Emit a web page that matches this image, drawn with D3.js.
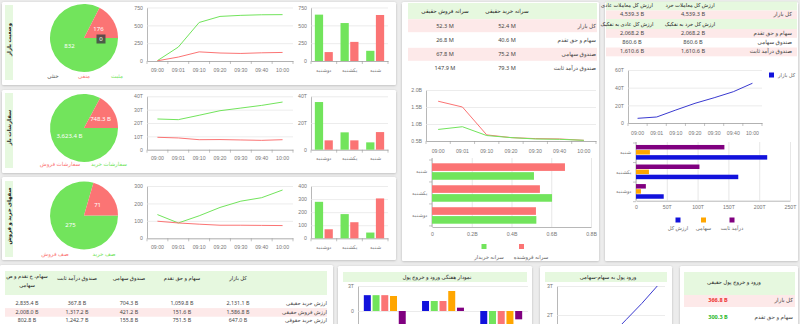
<!DOCTYPE html>
<html><head><meta charset="utf-8">
<script src="https://cdn.jsdelivr.net/npm/d3@7"></script>
<style>
body{margin:0;background:#ececec;overflow:hidden;}
svg{display:block;font-family:"Noto Sans","DejaVu Sans",sans-serif;}
</style></head><body><svg id="c" width="800" height="324"></svg>
<script>
// ---- shared categories ----
const times = ["09:00","09:01","09:10","09:20","09:30","09:40","10:00"];
const weekDays = ["دوشنبه","یکشنبه","شنبه"];       // column order, left to right
const weekDaysRows = ["شنبه","یکشنبه","دوشنبه"];   // row order, top to bottom

// ---- market state (counts) ----
const stateLabels = ["مثبت","منفی","خنثی"];
const stateCounts = [832, 176, 0];
const stateUp = [5, 195, 540, 625, 640, 648, 650];
const stateDown = [3, 55, 128, 112, 106, 115, 120];
const stateDayUp = [650, 532, 143];
const stateDayDown = [125, 268, 645];

// ---- open orders (B / T) ----
const orderLabels = ["سفارشات خرید","سفارشات فروش"];
const orderValues = [3623.4, 748.3];
const orderBuy = [23, 22.5, 25.8, 29.2, 31.2, 33.2, 35.7];
const orderSell = [9.3, 8.8, 7.5, 7.6, 7.3, 7, 7.5];
const orderDayBuy = [35.7, 13, 5.5];
const orderDaySell = [7, 7, 13.2];

// ---- buy / sell queues ----
const queueLabels = ["صف خرید","صف فروش"];
const queueValues = [275, 71];
const queueBuy = [136, 88, 129, 177, 213, 233, 277];
const queueSell = [98, 88, 81, 75, 75, 74, 73];
const queueDayBuy = [279, 185, 44];
const queueDaySell = [69, 123, 305];

// ---- per-capita individual trades ----
const perCapitaRows = ["کل بازار","سهام و حق تقدم","صندوق سهامی","صندوق درآمد ثابت"];
const perCapitaSellText = ["52.3 M","26.8 M","67.8 M","147.9 M"];
const perCapitaBuyText = ["52.4 M","40.6 M","75.2 M","79.3 M"];
const perCapitaBuyer = [0.84, 0.92, 0.66, 0.60, 0.56, 0.55, 0.52];
const perCapitaSeller = [1.67, 1.50, 0.68, 0.60, 0.57, 0.56, 0.52];
const perCapitaDayBuyer = [0.513, 0.604, 0.525];   // by weekDaysRows
const perCapitaDaySeller = [0.669, 0.543, 0.523];

// ---- trade value ----
const valueRetail = ["4,539.3 B","2,068.2 B","860.6 B","1,610.6 B"];
const valueNormal = ["4,539.3 B","2,068.2 B","860.6 B","1,610.6 B"];
const valueTotal = [5.3, 6.8, 14.7, 22.3, 28.6, 35.4, 45];   // T
const valueDayTotal = [213, 166, 45];      // by weekDaysRows
const valueDayEquity = [22.6, 21, 8];
const valueDayFixed = [143.5, 103, 16];

// ---- individual / institutional table ----
const flowCols = ["کل بازار","سهام و حق تقدم","صندوق سهامی","صندوق درآمد ثابت","سهام، ح تقدم و ص سهامی"];
const flowRows = ["ارزش خرید حقیقی","ارزش فروش حقیقی","ارزش خرید حقوقی"];
const flowCells = [
  ["2,131.1 B","1,059.8 B","704.3 B","367.8 B","2,835.4 B"],
  ["1,586.8 B","151.6 B","421.2 B","1,317.2 B","2,008.0 B"],
  ["647.0 B","751.5 B","155.8 B","1,242.7 B","802.8 B"]
];

// ---- weekly money flow (T) ----
const weeklySeries = ["کل بازار","سهام و حق تقدم","سهام","صندوق سهامی","صندوق درآمد ثابت"];
const weeklyFlow = [
  [1.9, 1.9, 1.9, 1.8, -2.6],
  [1.2, 1.2, 1.2, 2.4, 0.4],
  [-2.0, -2.0, -2.0, -2.0, -1.0]
];
const equityInflow = [0.3, 0.55, 0.9, 1.3, 1.85, 2.4, 3.0];   // T
const realFlowRows = ["کل بازار","سهام و حق تقدم"];
const realFlowText = ["366.8 B","300.3 B"];
const realFlowSign = [-1, 1];

// ---- palette ----
const GREEN = "#72e45c", RED = "#fb7474", BLUE = "#1212dc", LINEBLUE = "#3a3ad0",
      ORANGE = "#ffa600", PURPLE = "#800080", HEAD = "#e6f8df", PINK = "#fde9e9",
      TXT = "#444", TICK = "#777";

const svg = d3.select("#c");
const defs = svg.append("defs");
const f = defs.append("filter").attr("id","sh").attr("x","-5%").attr("y","-5%").attr("width","110%").attr("height","115%");
f.append("feDropShadow").attr("dx",0).attr("dy",0.6).attr("stdDeviation",0.8).attr("flood-color","#000").attr("flood-opacity",0.22);

function card(x, y, w, h) {
  svg.append("rect").attr("x", x).attr("y", y).attr("width", w).attr("height", h)
    .attr("rx", 1.5).attr("fill", "#fff").attr("filter", "url(#sh)");
}
function text(x, y, s, o = {}) {
  return svg.append("text").attr("x", x).attr("y", y).text(s)
    .attr("font-size", o.size || 5.6).attr("fill", o.fill || TXT)
    .attr("text-anchor", o.anchor || "middle").attr("dominant-baseline", "middle")
    .attr("font-weight", o.weight || "normal");
}
function styleAxis(g) {
  g.selectAll("text").attr("fill", TICK).attr("font-size", 5.2).attr("font-family", "inherit");
  g.select(".domain").attr("stroke", "#9a9a9a").attr("stroke-width", 0.7);
}

// time-series line chart
function lineChart(o) {
  const x = d3.scaleBand().domain(times).range([o.x0, o.x1]);
  const y = d3.scaleLinear().domain(o.domain).range([o.yb, o.yt]);
  const g = svg.append("g");
  g.append("g").attr("transform", `translate(${o.x0},0)`)
    .call(d3.axisLeft(y).tickValues(o.ticks).tickFormat(o.fmt).tickSize(-(o.x1 - o.x0)).tickSizeOuter(0).tickPadding(4))
    .call(a => { styleAxis(a); a.selectAll(".tick line").attr("stroke", "#e4e4e4").attr("stroke-width", 0.7); });
  if (!o.noX) {
    g.append("g").attr("transform", `translate(0,${o.yb})`)
      .call(d3.axisBottom(x).tickSize(0).tickSizeOuter(0).tickPadding(o.pad || 7))
      .call(styleAxis);
    g.append("g").selectAll("line").data(d3.range(times.length + 1)).join("line")
      .attr("x1", i => o.x0 + i * x.step()).attr("x2", i => o.x0 + i * x.step())
      .attr("y1", o.yb).attr("y2", o.yb + 3).attr("stroke", "#9a9a9a").attr("stroke-width", 0.6);
  }
  const line = d3.line().x((d, i) => x(times[i]) + x.bandwidth() / 2).y(d => y(d));
  o.series.forEach((s, i) => {
    g.append("path").datum(s).attr("d", line).attr("fill", "none")
      .attr("stroke", o.colors[i]).attr("stroke-width", o.sw || 1);
  });
  return { x, y };
}

// grouped vertical bars by weekday
function dayBars(o) {
  const x = d3.scaleBand().domain(weekDays).range([o.x0, o.x1]).paddingInner(0.3).paddingOuter(0.15);
  const xi = d3.scaleBand().domain(d3.range(o.series.length)).range([0, x.bandwidth()]).paddingInner(0.15);
  const y = d3.scaleLinear().domain(o.domain).range([o.yb, o.yt]);
  const g = svg.append("g");
  g.append("g").attr("transform", `translate(${o.x0},0)`)
    .call(d3.axisLeft(y).tickValues(o.ticks).tickFormat(o.fmt).tickSize(-(o.x1 - o.x0)).tickSizeOuter(0).tickPadding(4))
    .call(a => { styleAxis(a); a.selectAll(".tick line").attr("stroke", "#e4e4e4").attr("stroke-width", 0.7); });
  g.append("g").attr("transform", `translate(0,${o.yb})`)
    .call(d3.axisBottom(x).tickSize(0).tickSizeOuter(0).tickPadding(7))
    .call(styleAxis);
  g.append("g").selectAll("line").data(d3.range(weekDays.length + 1)).join("line")
    .attr("x1", i => o.x0 + i * x.step()).attr("x2", i => o.x0 + i * x.step())
    .attr("y1", o.yb).attr("y2", o.yb + 3).attr("stroke", "#9a9a9a").attr("stroke-width", 0.6);
  o.series.forEach((s, k) => {
    g.append("g").selectAll("rect").data(s).join("rect")
      .attr("x", (d, i) => x(weekDays[i]) + xi(k)).attr("width", xi.bandwidth())
      .attr("y", d => y(d)).attr("height", d => y(0) - y(d)).attr("fill", o.colors[k]);
  });
}

// grouped horizontal bars by weekday
function dayHBars(o) {
  const y = d3.scaleBand().domain(weekDaysRows).range([o.yt, o.yb]).paddingInner(o.pi).paddingOuter(o.po);
  const yi = d3.scaleBand().domain(d3.range(o.series.length)).range([0, y.bandwidth()]).paddingInner(o.gap);
  const x = d3.scaleLinear().domain(o.domain).range([o.x0, o.x1]);
  const g = svg.append("g");
  g.append("g").attr("transform", `translate(0,${o.yb})`)
    .call(d3.axisBottom(x).tickValues(o.ticks).tickFormat(o.fmt).tickSize(-(o.yb - o.gt)).tickSizeOuter(0).tickPadding(5))
    .call(a => { styleAxis(a); a.selectAll(".tick line").attr("stroke", "#dcdcdc").attr("stroke-width", 0.7); });
  g.append("g").attr("transform", `translate(${o.x0},0)`)
    .call(d3.axisLeft(y).tickSize(0).tickSizeOuter(0).tickPadding(5))
    .call(a => { styleAxis(a); a.select(".domain").attr("d", `M0,${o.gt}V${o.yb}`); });
  g.append("g").selectAll("line").data(d3.range(weekDaysRows.length + 1)).join("line")
    .attr("x1", o.x0 - 3).attr("x2", o.x0)
    .attr("y1", i => o.yt + i * y.step()).attr("y2", i => o.yt + i * y.step())
    .attr("stroke", "#9a9a9a").attr("stroke-width", 0.6);
  o.series.forEach((s, k) => {
    g.append("g").selectAll("rect").data(s).join("rect")
      .attr("y", (d, i) => y(weekDaysRows[i]) + yi(k)).attr("height", yi.bandwidth())
      .attr("x", x(0)).attr("width", d => x(d) - x(0)).attr("fill", o.colors[k]);
  });
}

// pie starting at 3 o'clock, clockwise
function pie(cx, cy, values, colors) {
  const arcs = d3.pie().sort(null).startAngle(Math.PI / 2).endAngle(Math.PI / 2 + 2 * Math.PI)(values);
  const arc = d3.arc().innerRadius(0).outerRadius(34);
  const g = svg.append("g").attr("transform", `translate(${cx},${cy})`);
  g.selectAll("path").data(arcs).join("path").attr("d", arc).attr("fill", (d, i) => colors[i]);
  return { g, arcs, arc };
}

function sideTitle(y0, y1, s) {
  svg.append("rect").attr("x", 5).attr("y", y0).attr("width", 8).attr("height", y1 - y0).attr("fill", HEAD);
  svg.append("text").attr("transform", `translate(9.3,${(y0 + y1) / 2 - 3}) rotate(-90)`).text(s)
    .attr("font-size", 5.4).attr("fill", "#222").attr("text-anchor", "middle").attr("dominant-baseline", "middle")
    .attr("font-weight", "bold");
}

const fmtPlain = d => d;
const fmtT = d => d === 0 ? "0" : d + "T";

// ===================== panel 1 : market state =====================
card(2, 2, 394, 83);
sideTitle(5, 80, "وضعیت بازار");
{
  const p = pie(84, 38, stateCounts, [GREEN, RED, "#999"]);
  [0, 1].forEach(i => {
    const c = p.arc.centroid(p.arcs[i]);
    p.g.append("text").attr("x", c[0]).attr("y", c[1]).text(stateCounts[i]).attr("fill", "#fff")
      .attr("font-size", 6).attr("text-anchor", "middle").attr("dominant-baseline", "middle");
  });
  const c0 = p.arc.centroid(p.arcs[2]);
  p.g.append("rect").attr("x", c0[0] - 4.5).attr("y", c0[1] - 3.5).attr("width", 9).attr("height", 9).attr("fill", "#444").attr("opacity", 0.85);
  p.g.append("text").attr("x", c0[0]).attr("y", c0[1] + 1).text(stateCounts[2]).attr("fill", "#fff")
    .attr("font-size", 6).attr("text-anchor", "middle").attr("dominant-baseline", "middle");
  text(117, 76.5, stateLabels[0], { fill: GREEN });
  text(84, 76.5, stateLabels[1], { fill: RED });
  text(53, 76.5, stateLabels[2], { fill: "#555" });
}
lineChart({ x0: 147, x1: 293, yt: 7.5, yb: 61, domain: [0, 750], ticks: [0, 250, 500, 750], fmt: fmtPlain,
  series: [stateUp, stateDown], colors: [GREEN, RED] });
dayBars({ x0: 311, x1: 388, yt: 7.5, yb: 61, domain: [0, 750], ticks: [0, 250, 500, 750], fmt: fmtPlain,
  series: [stateDayUp, stateDayDown], colors: [GREEN, RED] });

// ===================== panel 2 : open orders =====================
card(2, 90, 394, 83);
sideTitle(93, 168, "سفارشات باز");
{
  const p = pie(84, 128, orderValues, [GREEN, RED]);
  orderValues.forEach((v, i) => {
    const c = p.arc.centroid(p.arcs[i]);
    p.g.append("text").attr("x", c[0] + (i ? 2 : 0)).attr("y", c[1]).text(d3.format(",.1f")(v) + " B").attr("fill", "#fff")
      .attr("font-size", 6).attr("text-anchor", "middle").attr("dominant-baseline", "middle");
  });
  text(109, 164, orderLabels[0], { fill: GREEN });
  text(60, 164, orderLabels[1], { fill: RED });
}
lineChart({ x0: 147, x1: 293, yt: 96.3, yb: 149.7, domain: [0, 40], ticks: [0, 10, 20, 30, 40], fmt: fmtT,
  series: [orderBuy, orderSell], colors: [GREEN, RED] });
dayBars({ x0: 311, x1: 388, yt: 96.3, yb: 149.7, domain: [0, 40], ticks: [0, 20, 40], fmt: fmtT,
  series: [orderDayBuy, orderDaySell], colors: [GREEN, RED] });

// ===================== panel 3 : queues =====================
card(2, 177, 394, 83);
sideTitle(181, 257, "صفهای خرید و فروش");
{
  const p = pie(84, 215.5, queueValues, [GREEN, RED]);
  queueValues.forEach((v, i) => {
    const c = p.arc.centroid(p.arcs[i]);
    p.g.append("text").attr("x", c[0]).attr("y", c[1]).text(v).attr("fill", "#fff")
      .attr("font-size", 6).attr("text-anchor", "middle").attr("dominant-baseline", "middle");
  });
  text(104, 254, queueLabels[0], { fill: GREEN });
  text(55, 254, queueLabels[1], { fill: RED });
}
lineChart({ x0: 147, x1: 293, yt: 186, yb: 238.3, domain: [0, 300], ticks: [0, 100, 200, 300], fmt: fmtPlain,
  series: [queueBuy, queueSell], colors: [GREEN, RED] });
dayBars({ x0: 311, x1: 388, yt: 186, yb: 238.3, domain: [0, 400], ticks: [0, 100, 200, 300, 400], fmt: fmtPlain,
  series: [queueDayBuy, queueDaySell], colors: [GREEN, RED] });

// ===================== middle column : per-capita =====================
card(402, 2, 197, 259);
svg.append("rect").attr("x", 408).attr("y", 3).attr("width", 189).attr("height", 16).attr("fill", HEAD);
text(445, 11, "سرانه فروش حقیقی", { size: 5.6, fill: "#222" });
text(507, 11, "سرانه خرید حقیقی", { size: 5.6, fill: "#222" });
perCapitaRows.forEach((r, i) => {
  const cy = 26 + i * 14.3;
  if (i % 2 === 0) svg.append("rect").attr("x", 408).attr("y", cy - 6.8).attr("width", 189).attr("height", 13).attr("fill", PINK);
  text(596, cy, r, { anchor: "end" });
  text(445, cy, perCapitaSellText[i]);
  text(507, cy, perCapitaBuyText[i]);
});
lineChart({ x0: 426, x1: 596, yt: 90, yb: 141, domain: [0.5, 2.0], ticks: [0.5, 1.0, 1.5, 2.0], fmt: d => d3.format(".1f")(d) + "B",
  series: [perCapitaSeller, perCapitaBuyer], colors: [RED, GREEN], pad: 8 });
dayHBars({ x0: 432, x1: 591, yt: 160, yb: 227, gt: 158, pi: 0.25, po: 0.15, gap: 0.14,
  domain: [0, 0.8], ticks: [0, 0.2, 0.4, 0.6, 0.8], fmt: d => d === 0 ? "0" : d3.format(".1f")(d) + "B",
  series: [perCapitaDaySeller, perCapitaDayBuyer], colors: [RED, GREEN] });
svg.append("rect").attr("x", 481.5).attr("y", 244).attr("width", 5).attr("height", 5).attr("fill", GREEN);
svg.append("rect").attr("x", 519).attr("y", 244).attr("width", 5).attr("height", 5).attr("fill", RED);
text(489, 257.5, "سرانه خریدار", { fill: "#666", size: 5.4 });
text(531, 257.5, "سرانه فروشنده", { fill: "#666", size: 5.4 });

// ===================== right column : trade value =====================
card(605, 2, 193, 259);
svg.append("rect").attr("x", 606).attr("y", 1.5).attr("width", 191).attr("height", 9).attr("fill", HEAD);
svg.append("rect").attr("x", 606).attr("y", 10.5).attr("width", 191).attr("height", 8.5).attr("fill", PINK);
svg.append("rect").attr("x", 606).attr("y", 19).attr("width", 191).attr("height", 10).attr("fill", HEAD);
svg.append("rect").attr("x", 606).attr("y", 29).attr("width", 191).attr("height", 8.8).attr("fill", PINK);
svg.append("rect").attr("x", 606).attr("y", 47.5).attr("width", 191).attr("height", 8.8).attr("fill", PINK);
text(627, 6, "ارزش کل معاملات عادی", { fill: "#222", size: 5.2 });
text(690, 6, "ارزش کل معاملات خرد", { fill: "#222", size: 5.2 });
text(632, 14, valueNormal[0]);
text(693, 14, valueRetail[0]);
text(792, 14, "کل بازار", { anchor: "end" });
text(627, 24.5, "ارزش کل عادی به تفکیک", { fill: "#222", size: 5.2 });
text(690, 24.5, "ارزش کل خرد به تفکیک", { fill: "#222", size: 5.2 });
perCapitaRows.slice(1).forEach((r, i) => {
  const cy = 33.5 + i * 9.2;
  text(792, cy, r, { anchor: "end" });
  text(632, cy, valueNormal[i + 1]);
  text(693, cy, valueRetail[i + 1]);
});
lineChart({ x0: 628, x1: 762, yt: 70, yb: 123, domain: [0, 60], ticks: [0, 20, 40, 60], fmt: fmtT,
  series: [valueTotal], colors: [LINEBLUE], pad: 8 });
svg.append("rect").attr("x", 769).attr("y", 72.5).attr("width", 5).attr("height", 5).attr("fill", BLUE);
text(778, 75.5, "کل بازار", { anchor: "start", fill: "#666", size: 5.2 });
dayHBars({ x0: 636, x1: 790, yt: 143, yb: 200.7, gt: 142, pi: 0.25, po: 0.1, gap: 0.12,
  domain: [0, 250], ticks: [0, 50, 100, 150, 200, 250], fmt: fmtT,
  series: [valueDayFixed, valueDayEquity, valueDayTotal], colors: [PURPLE, ORANGE, BLUE] });
[[675.5, BLUE, "ارزش کل"], [701, ORANGE, "سهامی"], [729.5, PURPLE, "درآمد ثابت"]].forEach(([x, c, s]) => {
  svg.append("rect").attr("x", x).attr("y", 217.5).attr("width", 5).attr("height", 5).attr("fill", c);
  text(x + 2.5, 229, s, { fill: "#666", size: 5.2 });
});

// ===================== bottom : individual / institutional =====================
card(0, 265, 333, 70);
svg.append("rect").attr("x", 5).attr("y", 271).attr("width", 322).attr("height", 24).attr("fill", HEAD);
const colX = [238, 182, 129, 77, 27];
flowCols.forEach((c, j) => {
  if (j === 4) {
    text(colX[j], 277, "سهام، ح تقدم و ص", { fill: "#222", size: 5.3 });
    text(colX[j], 285.5, "سهامی", { fill: "#222", size: 5.3 });
  } else text(colX[j], 279, c, { fill: "#222", size: 5.3 });
});
flowRows.forEach((r, i) => {
  const cy = 304 + i * 8.4;
  if (i === 1) svg.append("rect").attr("x", 5).attr("y", cy - 4.3).attr("width", 322).attr("height", 8.6).attr("fill", PINK);
  text(327, cy, r, { anchor: "end", size: 5.3 });
  flowCells[i].forEach((v, j) => text(colX[j], cy, v, { size: 5.3 }));
});

// weekly money flow
card(338, 266, 194, 70);
svg.append("rect").attr("x", 343).attr("y", 272).attr("width", 184).attr("height", 10).attr("fill", HEAD);
text(437, 277.5, "نمودار هفتگی ورود و خروج پول", { fill: "#222", size: 5.4 });
{
  const x = d3.scaleBand().domain(weekDaysRows).range([358, 528]).paddingInner(0.28).paddingOuter(0.1);
  const xi = d3.scaleBand().domain(d3.range(5)).range([0, x.bandwidth()]).paddingInner(0.2);
  const y = d3.scaleLinear().domain([-3, 3]).range([336, 286]);
  const g = svg.append("g");
  g.append("g").attr("transform", "translate(358,0)")
    .call(d3.axisLeft(y).tickValues([0, 3]).tickFormat(fmtT).tickSize(-170).tickSizeOuter(0).tickPadding(4))
    .call(a => { styleAxis(a); a.selectAll(".tick line").attr("stroke", "#e2e2e2").attr("stroke-width", 0.7); });
  weeklyFlow.forEach((grp, i) => {
    g.append("g").selectAll("rect").data(grp).join("rect")
      .attr("x", (d, k) => x(weekDaysRows[i]) + xi(k)).attr("width", xi.bandwidth())
      .attr("y", d => y(Math.max(0, d))).attr("height", d => Math.abs(y(d) - y(0)))
      .attr("fill", (d, k) => [BLUE, GREEN, RED, ORANGE, PURPLE][k]);
  });
}

// money inflow to equities
card(540, 266, 132, 70);
svg.append("rect").attr("x", 545).attr("y", 272).attr("width", 122).attr("height", 10).attr("fill", HEAD);
text(608, 277.5, "ورود پول به سهام-سهامی", { fill: "#222", size: 5.4 });
lineChart({ x0: 557, x1: 665, yt: 286, yb: 373, domain: [0, 3], ticks: [2, 3], fmt: fmtT,
  series: [equityInflow], colors: [LINEBLUE], noX: true });

// individual money in/out
card(680, 266, 118, 70);
svg.append("rect").attr("x", 684).attr("y", 272).attr("width", 111).attr("height", 23).attr("fill", HEAD);
text(734, 283, "ورود و خروج پول حقیقی", { fill: "#222", size: 5.4 });
realFlowRows.forEach((r, i) => {
  const cy = 300.5 + i * 16.5;
  if (i === 0) svg.append("rect").attr("x", 684).attr("y", 295).attr("width", 111).attr("height", 12).attr("fill", PINK);
  text(793, cy, r, { anchor: "end" });
  text(718, cy, realFlowText[i], { fill: realFlowSign[i] < 0 ? "#e33" : "#2db82d", weight: "bold" });
});
</script></body></html>
